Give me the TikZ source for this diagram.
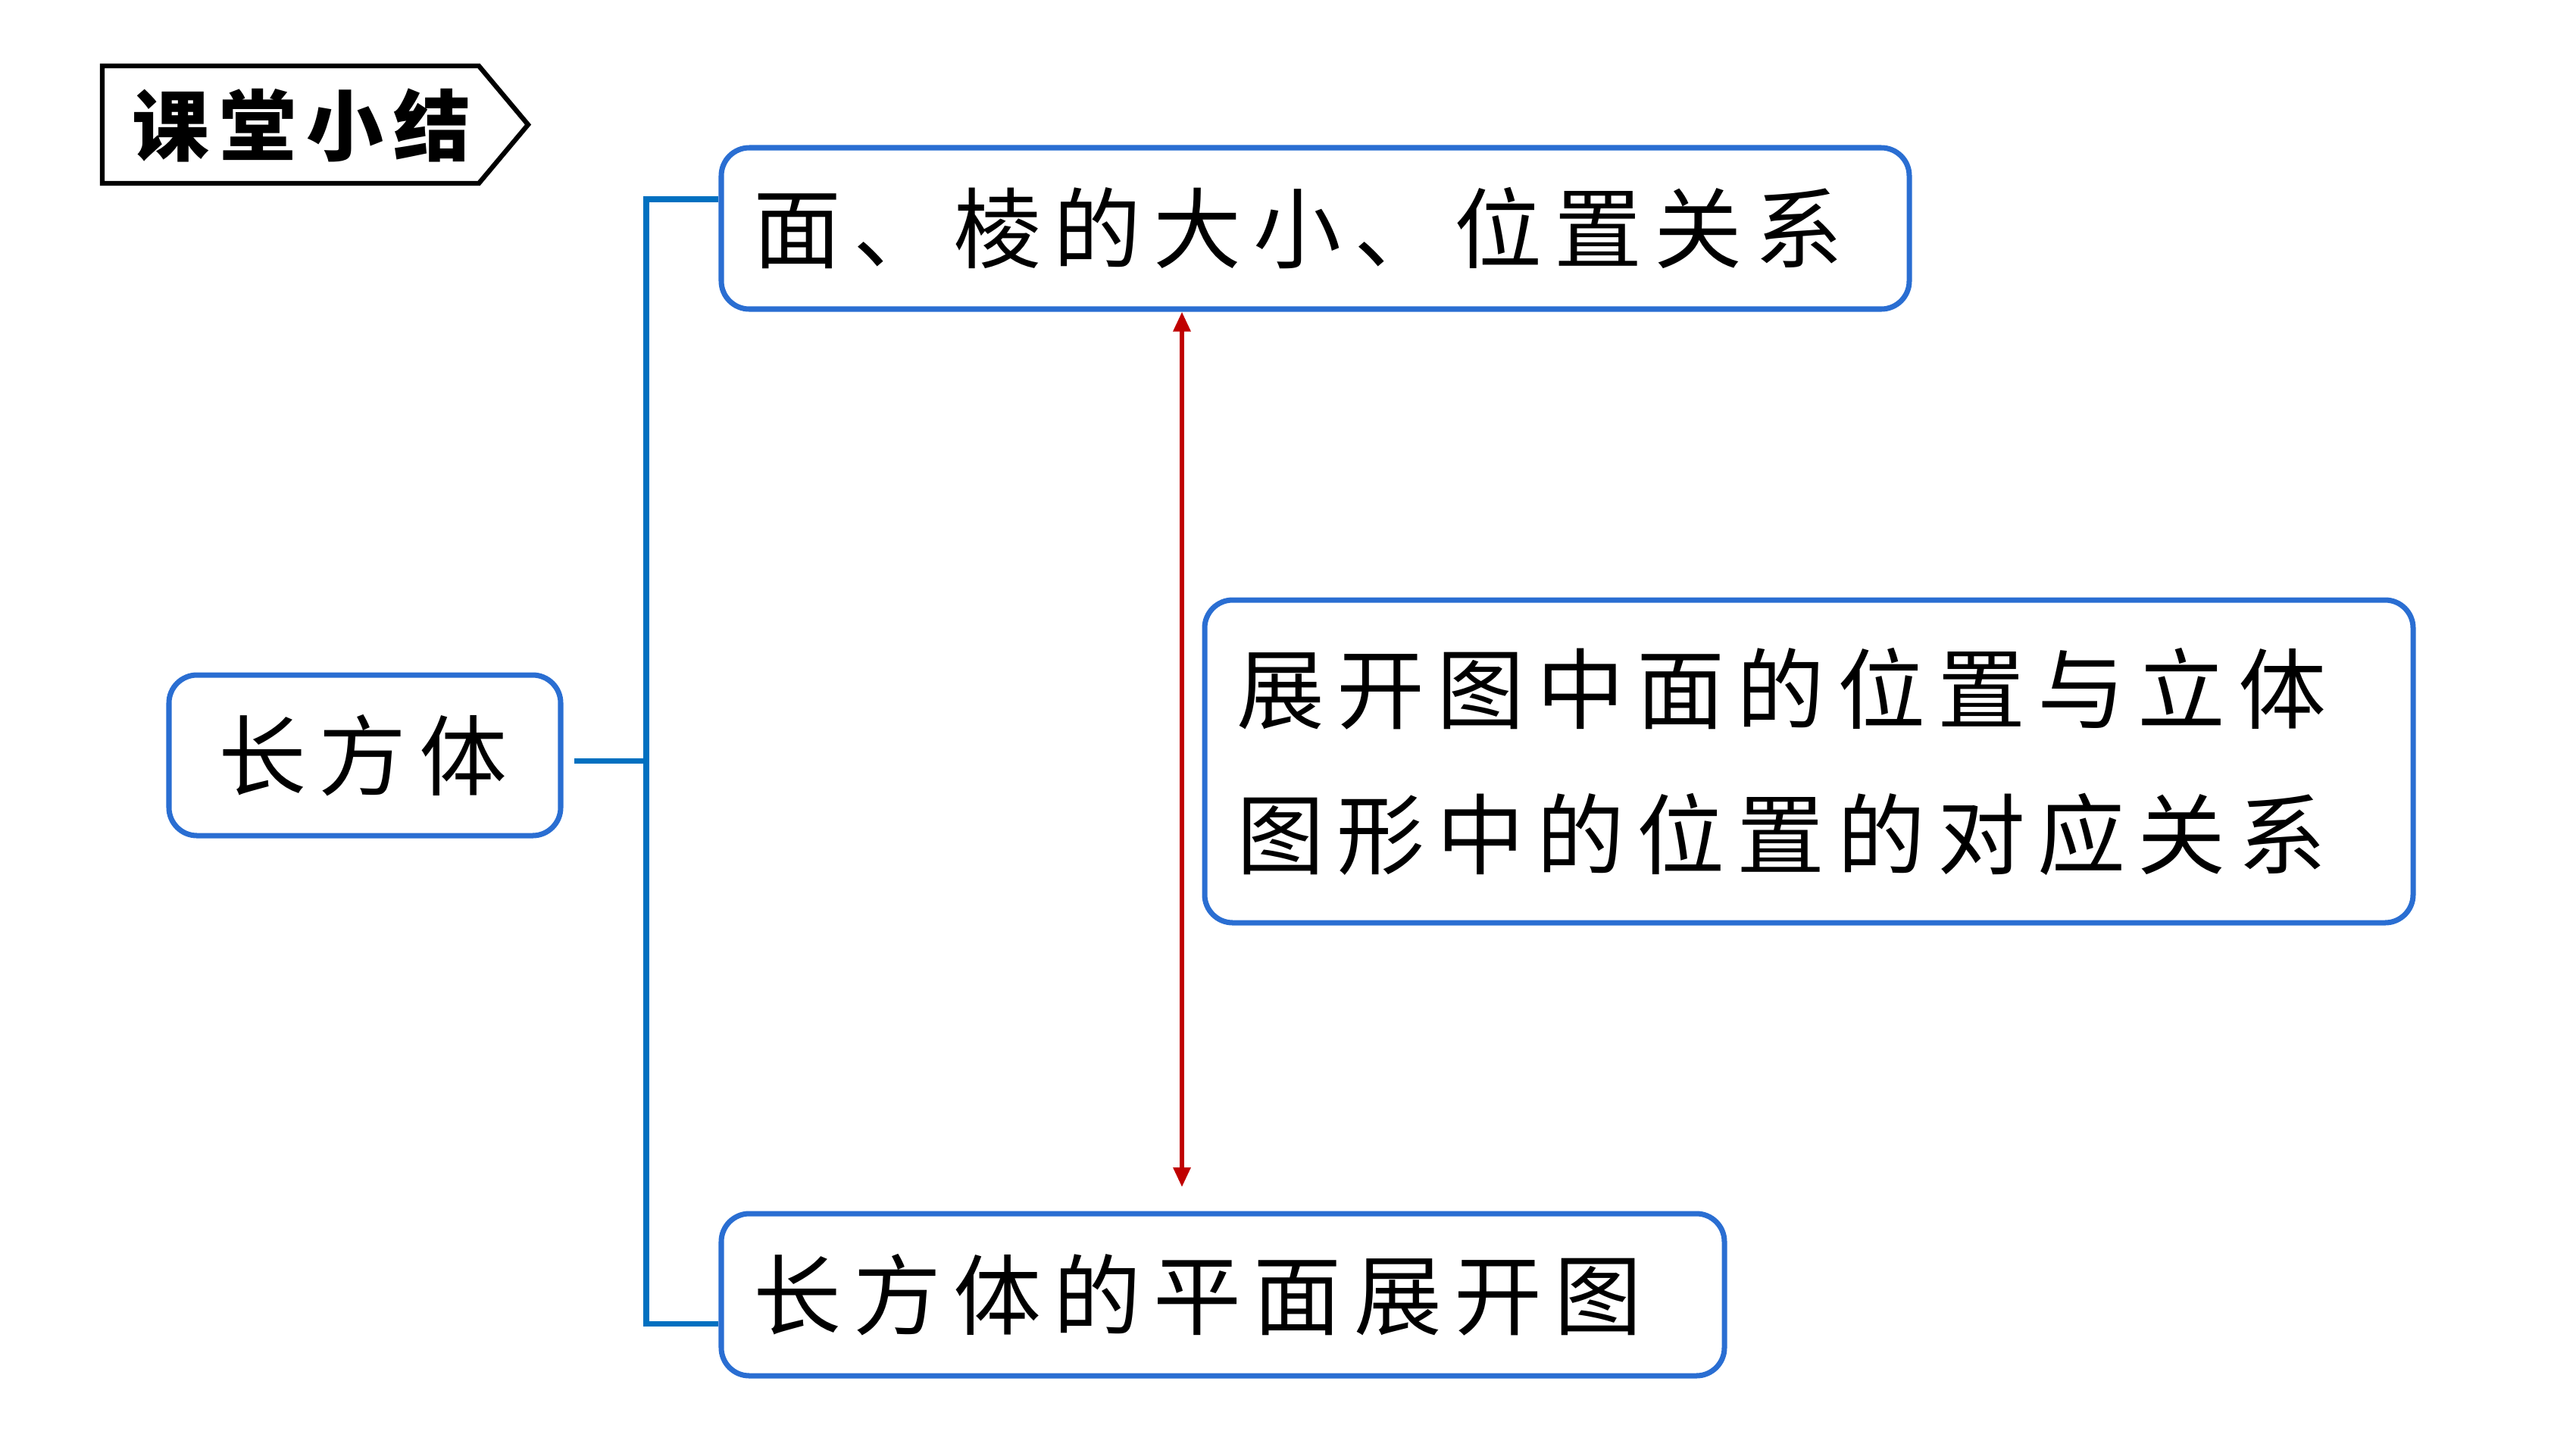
\documentclass[tikz,border=0pt]{standalone}
\usepackage{fontspec}
\setmainfont{Noto Sans CJK SC}
\newfontfamily\boxfont[LetterSpace=14]{Noto Sans CJK SC}
\newfontfamily\titlefont[LetterSpace=13]{Noto Sans CJK SC}
\usetikzlibrary{arrows.meta}
\definecolor{boxblue}{HTML}{2A6ED2}
\definecolor{linkblue}{HTML}{0070C0}
\definecolor{arrowred}{HTML}{C00000}

\begin{document}
\begin{tikzpicture}[
  box/.style={draw=boxblue, line width=2pt, rounded corners=0.37cm, inner ysep=0pt,
    font=\boxfont\fontsize{33}{54.6}\selectfont},
  link/.style={draw=linkblue, line width=2pt},
  redarrow/.style={draw=arrowred, line width=1.7pt,
    {Triangle[length=0.26cm,width=0.22cm]}-{Triangle[length=0.26cm,width=0.22cm]}}
]
\useasboundingbox (0,0) rectangle (34,-19.13);
% title tag
\draw [line width=1.8pt] (1.35,-0.87) -- (6.32,-0.87) -- (6.97,-1.645) -- (6.32,-2.42) -- (1.35,-2.42) -- cycle;
\node (T0) at (3.98,-1.65) {\titlefont\bfseries\fontsize{29}{32}\selectfont 课堂小结};
% boxes
\node [box, minimum width=5.17cm, minimum height=2.12cm, inner xsep=0pt] (B0) at (4.815,-9.97) {\hspace*{-0.05cm}长方体};
\node [box, minimum width=15.68cm, minimum height=2.13cm, text width=14.84cm, inner xsep=0.42cm, align=left] (B1) at (17.36,-3.015) {面、棱的大小、位置关系};
\node [box, minimum width=15.95cm, minimum height=4.26cm, text width=15.11cm, inner xsep=0.42cm, align=left] (B2) at (23.875,-10.05) {展开图中面的位置与立体\\图形中的位置的对应关系};
\node [box, minimum width=13.24cm, minimum height=2.14cm, text width=12.4cm, inner xsep=0.42cm, align=left] (B3) at (16.14,-17.09) {长方体的平面展开图};
% tree lines
\coordinate (J0) at (7.58,-10.04);
\coordinate (J1) at (8.53,-2.63);
\coordinate (J2) at (8.53,-17.47);
\draw [link] (J0) -- (J0 -| J1);
\draw [link] (B1.west |- J1) -- (J1) -- (J2) -- (B3.west |- J2);
% red arrow
\coordinate (A0) at (15.6,-15.67);
\draw [redarrow] (A0 |- B1.south) -- (A0);
\end{tikzpicture}
\end{document}
